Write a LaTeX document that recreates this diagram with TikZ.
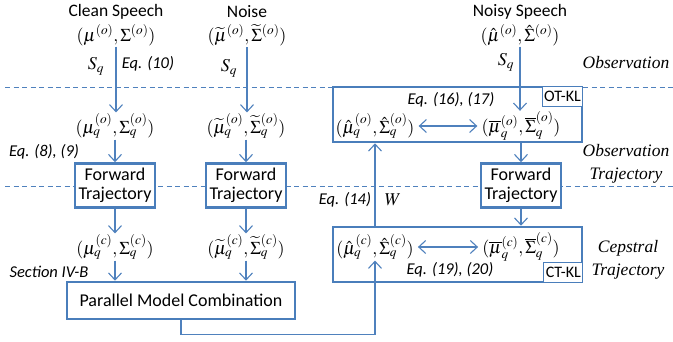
\documentclass[tikz,border=0pt]{standalone}
\usepackage{mathptmx}
\usepackage{fontspec}
\setmainfont{Carlito}
\newfontfamily\tnr{Liberation Serif}
\usetikzlibrary{arrows.meta,positioning}
\definecolor{bl}{RGB}{74,126,187}
\definecolor{ln}{RGB}{79,129,189}
\tikzset{
  hd/.style={font=\fontsize{17.5}{19}\selectfont, inner sep=0pt},
  fm/.style={font=\fontsize{18}{20}\selectfont, inner sep=1pt},
  eq/.style={font=\fontsize{16.5}{18}\selectfont\itshape, inner sep=0pt},
  zone/.style={font=\fontsize{17.5}{23}\selectfont\tnr\itshape, align=center, inner sep=0pt},
  fwbox/.style={draw=bl, line width=2.6pt, fill=white, minimum width=80pt, minimum height=44pt, align=center, font=\fontsize{18}{19.5}\selectfont, inner sep=0pt},
  bigbox/.style={draw=bl, line width=2.6pt, fill=white, minimum width=249pt, minimum height=55pt, inner sep=0pt},
  tag/.style={draw=bl, line width=0.9pt, fill=white, font=\fontsize{16}{17}\selectfont, inner sep=2pt, minimum height=20pt},
  arr/.style={draw=ln, line width=1.1pt, -{Straight Barb[length=7pt,width=13pt]}},
  darr/.style={draw=ln, line width=1.1pt, {Straight Barb[length=7pt,width=13pt]}-{Straight Barb[length=7pt,width=13pt]}},
  sep/.style={draw=ln, line width=0.9pt, dash pattern=on 5pt off 3.5pt}
}
\begin{document}
\begin{tikzpicture}[x=1pt,y=-1pt]
\useasboundingbox (0,0) rectangle (673,341);
% separators
\draw[sep] (5,87) -- (673,87);
\draw[sep] (5,186) -- (673,186);
% boxes
\node[bigbox] (ot) at (457.5,114.5) {};
\node[bigbox] (ct) at (457.5,254.5) {};
\node[tag, anchor=north east] (otkl) at (ot.north east) {OT-KL};
\node[tag, anchor=south east] (ctkl) at (ct.south east) {CT-KL};
\node[fwbox] (fw1) at (115,185.5) {Forward\\Trajectory};
\node[fwbox] (fw2) at (246,185.5) {Forward\\Trajectory};
\node[fwbox] (fw3) at (521,185.5) {Forward\\Trajectory};
\node[fwbox, minimum width=228pt, minimum height=37pt] (pmc) at (181,300.5) {Parallel Model Combination};
% headings
\node[hd] (cs) at (116,12) {Clean Speech};
\node[hd] (ns) at (247,12) {Noise};
\node[hd] (ny) at (520,12) {Noisy Speech};
% formulas
\node[fm] (csf) at (116,35) {$(\mu^{(o)},\Sigma^{(o)})$};
\node[fm] (nsf) at (247,35) {$(\widetilde{\mu}^{(o)},\widetilde{\Sigma}^{(o)})$};
\node[fm] (nyf) at (520,35) {$(\hat{\mu}^{(o)},\hat{\Sigma}^{(o)})$};
\node[fm] (csq) at (115,126) {$(\mu_q^{(o)},\Sigma_q^{(o)})$};
\node[fm] (nsq) at (246,126) {$(\widetilde{\mu}_q^{(o)},\widetilde{\Sigma}_q^{(o)})$};
\node[fm] (nyh) at (375,126) {$(\hat{\mu}_q^{(o)},\hat{\Sigma}_q^{(o)})$};
\node[fm] (nyb) at (521,126) {$(\overline{\mu}_q^{(o)},\overline{\Sigma}_q^{(o)})$};
\node[fm] (csc) at (115,247) {$(\mu_q^{(c)},\Sigma_q^{(c)})$};
\node[fm] (nsc) at (246,247) {$(\widetilde{\mu}_q^{(c)},\widetilde{\Sigma}_q^{(c)})$};
\node[fm] (nych) at (375,247) {$(\hat{\mu}_q^{(c)},\hat{\Sigma}_q^{(c)})$};
\node[fm] (nycb) at (521,247) {$(\overline{\mu}_q^{(c)},\overline{\Sigma}_q^{(c)})$};
% labels
\node[fm] (sq1) at (96,66) {$S_q$};
\node[fm] (sq2) at (229,68) {$S_q$};
\node[fm] (sq3) at (506,62) {$S_q$};
\node[fm] (w) at (393,200) {$W$};
\node[eq] (e10) at (148,64) {Eq. (10)};
\node[eq] (e89) at (44,152) {Eq. (8), (9)};
\node[eq] (esec) at (49,272) {Section IV-B};
\node[eq] (e14) at (345,200) {Eq. (14)};
\node[eq] (e1617) at (451,100) {Eq. (16), (17)};
\node[eq] (e1920) at (450,270) {Eq. (19), (20)};
\node[zone] (zobs) at (626,63) {Observation};
\node[zone] (zot) at (626,163.5) {Observation\\Trajectory};
\node[zone] (zct) at (628,259.5) {Cepstral\\Trajectory};
% connectors
\draw[arr] (csf.south) -- (csf.south |- csq.north);
\draw[arr] (nsf.south) -- (nsf.south |- nsq.north);
\draw[arr] (nyf.south) -- (nyf.south |- nyb.north);
\draw[arr] (csq.south) -- (csq.south |- fw1.north);
\draw[arr] (nsq.south) -- (nsq.south |- fw2.north);
\draw[arr] (fw3.north |- ot.south) -- (fw3.north);
\draw[arr] (fw1.south) -- (fw1.south |- csc.north);
\draw[arr] (fw2.south) -- (fw2.south |- nsc.north);
\draw[arr] (fw3.south) -- (fw3.south |- ct.north);
\draw[arr] (csc.south) -- (csc.south |- pmc.north);
\draw[arr] (nsc.south) -- (nsc.south |- pmc.north);
\draw[darr] (nyh.east) ++(3,0) -- ([xshift=-3pt]nyb.west);
\draw[darr] (nych.east) ++(3,0) -- ([xshift=-3pt]nycb.west);
\draw[arr] (nyh.south |- ct.north) -- (nyh.south |- ot.south);
\draw[arr] (pmc.south) -- ++(0,14) -| (nych.south);
\end{tikzpicture}
\end{document}
